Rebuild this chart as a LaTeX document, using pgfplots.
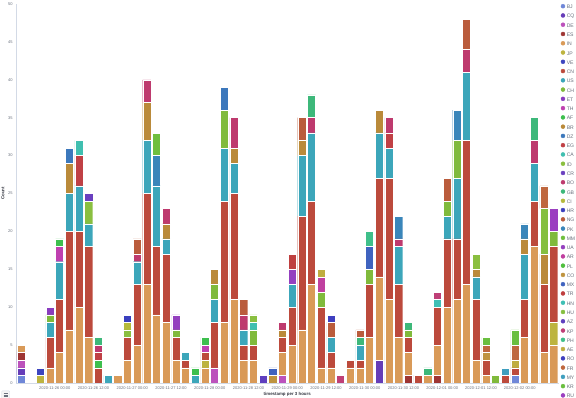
\documentclass[border=0pt]{standalone}
\usepackage{pgfplots}
\pgfplotsset{compat=1.18}
\usepackage{pgfplotstable}
\usepackage{fontspec}
\setmainfont{Liberation Sans}

\definecolor{tickgrey}{HTML}{69707D}
\definecolor{labeldark}{HTML}{343741}
\definecolor{axisgrey}{HTML}{D3DAE6}
\definecolor{cBJ}{HTML}{6F87D8}
\definecolor{cCQ}{HTML}{663DB8}
\definecolor{cDE}{HTML}{BC52BC}
\definecolor{cES}{HTML}{9E3533}
\definecolor{cIN}{HTML}{D99A58}
\definecolor{cJP}{HTML}{BDB440}
\definecolor{cVE}{HTML}{3D45BF}
\definecolor{cCN}{HTML}{BC4A3C}
\definecolor{cUS}{HTML}{3CA6BA}
\definecolor{cCH}{HTML}{80BA3C}
\definecolor{cET}{HTML}{8A3CBF}
\definecolor{cTH}{HTML}{BF40B0}
\definecolor{cAF}{HTML}{3DBF4E}
\definecolor{cBR}{HTML}{BA8A3A}
\definecolor{cDZ}{HTML}{3C78BC}
\definecolor{cEG}{HTML}{C04045}
\definecolor{cCA}{HTML}{40BFB0}
\definecolor{cID}{HTML}{8ABF40}
\definecolor{cCR}{HTML}{6A40BF}
\definecolor{cBO}{HTML}{BE3A6E}
\definecolor{cGB}{HTML}{3DB87A}
\definecolor{cCI}{HTML}{B5BA3C}
\definecolor{cHR}{HTML}{3A3FBE}
\definecolor{cNG}{HTML}{BA5C3C}
\definecolor{cPK}{HTML}{3A86BA}
\definecolor{cMM}{HTML}{6FBF3E}
\definecolor{cUA}{HTML}{9440BF}
\definecolor{cAR}{HTML}{C040A0}
\definecolor{cPL}{HTML}{4FBF3F}
\definecolor{cCO}{HTML}{BF9440}
\definecolor{cMX}{HTML}{3F63BF}
\definecolor{cTR}{HTML}{BF3F3F}
\definecolor{cHN}{HTML}{3FBFB5}
\definecolor{cHU}{HTML}{84BF3F}
\definecolor{cAZ}{HTML}{5F3FBF}
\definecolor{cKP}{HTML}{BF3F77}
\definecolor{cPH}{HTML}{3FBF8A}
\definecolor{cAE}{HTML}{BFAD3F}
\definecolor{cRO}{HTML}{3F3FBF}
\definecolor{cFR}{HTML}{BF683F}
\definecolor{cMY}{HTML}{3F9FBF}
\definecolor{cKR}{HTML}{6ABF3F}
\definecolor{cRU}{HTML}{9B3FC0}

% counts per 3-hour bucket (t = bucket index from 2020-11-25 12:00), one column per country
\pgfplotstableread{
t  BJ CQ DE ES IN  JP VE CN US CH  ET TH AF BR DZ  EG CA ID CR BO  GB CI HR NG PK  MM UA AR PL CO  MX TR HN HU AZ  KP PH AE RO FR  MY KR RU
0  1 1 1 1 1  0 0 0 0 0  0 0 0 0 0  0 0 0 0 0  0 0 0 0 0  0 0 0 0 0  0 0 0 0 0  0 0 0 0 0  0 0 0
1  0 0 0 0 0  0 0 0 0 0  0 0 0 0 0  0 0 0 0 0  0 0 0 0 0  0 0 0 0 0  0 0 0 0 0  0 0 0 0 0  0 0 0
2  0 0 0 0 0  1 1 0 0 0  0 0 0 0 0  0 0 0 0 0  0 0 0 0 0  0 0 0 0 0  0 0 0 0 0  0 0 0 0 0  0 0 0
3  0 0 0 0 2  0 0 4 2 1  1 0 0 0 0  0 0 0 0 0  0 0 0 0 0  0 0 0 0 0  0 0 0 0 0  0 0 0 0 0  0 0 0
4  0 0 0 0 4  0 0 7 5 0  0 2 1 0 0  0 0 0 0 0  0 0 0 0 0  0 0 0 0 0  0 0 0 0 0  0 0 0 0 0  0 0 0
5  0 0 0 0 7  0 0 13 5 0  0 0 0 4 2  0 0 0 0 0  0 0 0 0 0  0 0 0 0 0  0 0 0 0 0  0 0 0 0 0  0 0 0
6  0 0 0 0 10  0 0 10 6 0  0 0 0 0 0  4 2 0 0 0  0 0 0 0 0  0 0 0 0 0  0 0 0 0 0  0 0 0 0 0  0 0 0
7  0 0 0 0 6  0 0 12 3 0  0 0 0 0 0  0 0 3 1 0  0 0 0 0 0  0 0 0 0 0  0 0 0 0 0  0 0 0 0 0  0 0 0
8  0 0 0 0 0  0 0 2 0 0  0 0 1 0 0  1 0 0 0 1  1 0 0 0 0  0 0 0 0 0  0 0 0 0 0  0 0 0 0 0  0 0 0
9  0 0 0 0 0  0 0 0 1 0  0 0 0 0 0  0 0 0 0 0  0 0 0 0 0  0 0 0 0 0  0 0 0 0 0  0 0 0 0 0  0 0 0
10 0 0 0 0 1  0 0 0 0 0  0 0 0 0 0  0 0 0 0 0  0 0 0 0 0  0 0 0 0 0  0 0 0 0 0  0 0 0 0 0  0 0 0
11 0 0 0 0 3  0 0 3 0 0  0 0 0 0 0  0 0 1 0 0  0 1 1 0 0  0 0 0 0 0  0 0 0 0 0  0 0 0 0 0  0 0 0
12 0 0 0 0 5  0 0 8 3 0  0 0 0 0 0  0 0 0 0 1  0 0 0 2 0  0 0 0 0 0  0 0 0 0 0  0 0 0 0 0  0 0 0
13 0 0 0 0 13  0 0 12 7 0  0 0 0 5 0  0 0 0 0 3  0 0 0 0 0  0 0 0 0 0  0 0 0 0 0  0 0 0 0 0  0 0 0
14 0 0 0 0 9  0 0 9 8 0  0 0 0 0 0  0 0 0 0 0  0 0 0 0 4  3 0 0 0 0  0 0 0 0 0  0 0 0 0 0  0 0 0
15 0 0 0 0 8  0 0 9 2 0  0 0 0 2 0  0 0 0 0 2  0 0 0 0 0  0 0 0 0 0  0 0 0 0 0  0 0 0 0 0  0 0 0
16 0 0 0 0 3  0 0 3 0 1  0 0 0 0 0  0 0 0 0 0  0 0 0 0 0  0 2 0 0 0  0 0 0 0 0  0 0 0 0 0  0 0 0
17 0 0 0 0 2  0 0 1 1 0  0 0 0 0 0  0 0 0 0 0  0 0 0 0 0  0 0 0 0 0  0 0 0 0 0  0 0 0 0 0  0 0 0
18 0 0 0 0 0  0 0 0 1 0  0 0 1 0 0  0 0 0 0 0  0 0 0 0 0  0 0 0 0 0  0 0 0 0 0  0 0 0 0 0  0 0 0
19 0 0 0 0 2  1 0 1 0 0  0 1 1 0 0  0 0 0 0 0  0 0 0 0 0  0 0 0 0 0  0 0 0 0 0  0 0 0 0 0  0 0 0
20 0 0 2 0 0  0 0 6 3 2  0 0 0 2 0  0 0 0 0 0  0 0 0 0 0  0 0 0 0 0  0 0 0 0 0  0 0 0 0 0  0 0 0
21 0 0 0 0 8  0 0 16 7 5  0 0 0 0 3  0 0 0 0 0  0 0 0 0 0  0 0 0 0 0  0 0 0 0 0  0 0 0 0 0  0 0 0
22 0 0 0 0 11  0 0 14 4 0  0 0 0 2 0  0 0 0 0 4  0 0 0 0 0  0 0 0 0 0  0 0 0 0 0  0 0 0 0 0  0 0 0
23 0 0 0 0 3  0 0 2 2 0  0 0 0 0 0  0 0 0 0 2  0 0 0 2 0  0 0 0 0 0  0 0 0 0 0  0 0 0 0 0  0 0 0
24 0 0 0 0 3  0 0 2 0 2  0 0 0 0 0  0 1 1 0 0  0 0 0 0 0  0 0 0 0 0  0 0 0 0 0  0 0 0 0 0  0 0 0
25 0 0 0 0 0  0 0 0 0 0  0 0 0 0 0  0 0 0 0 0  0 0 0 0 0  0 0 0 0 0  0 0 0 0 1  0 0 0 0 0  0 0 0
26 0 0 0 0 0  0 0 0 0 0  0 0 0 0 0  0 0 0 0 0  0 0 0 0 0  0 0 0 0 1  1 0 0 0 0  0 0 0 0 0  0 0 0
27 0 0 1 0 3  0 0 2 0 0  0 0 0 1 0  0 0 0 0 1  0 0 0 0 0  0 0 0 0 0  0 0 0 0 0  0 0 0 0 0  0 0 0
28 0 0 0 0 5  0 0 5 3 0  0 0 0 0 0  0 0 0 0 0  0 0 0 0 0  0 2 0 0 0  0 2 0 0 0  0 0 0 0 0  0 0 0
29 0 0 0 0 7  0 0 15 8 0  0 0 0 2 0  0 0 0 0 0  0 0 0 3 0  0 0 0 0 0  0 0 0 0 0  0 0 0 0 0  0 0 0
30 0 0 0 0 13  0 0 11 9 0  0 0 0 0 0  0 0 0 0 2  3 0 0 0 0  0 0 0 0 0  0 0 0 0 0  0 0 0 0 0  0 0 0
31 0 0 0 0 2  0 0 8 0 2  0 0 0 0 0  0 0 0 0 0  0 0 0 0 0  0 0 2 0 0  0 0 0 0 0  0 0 1 0 0  0 0 0
32 0 0 0 0 2  0 0 2 2 0  0 0 0 0 0  0 0 0 0 0  0 0 0 2 0  0 0 0 0 0  0 0 0 0 0  0 0 0 1 0  0 0 0
33 0 0 0 0 0  0 0 0 0 0  0 0 0 0 0  0 0 0 0 0  0 0 0 0 0  0 0 0 0 0  0 0 0 0 0  1 0 0 0 0  0 0 0
34 0 0 0 0 2  0 0 1 0 0  0 0 0 0 0  0 0 0 0 0  0 0 0 0 0  0 0 0 0 0  0 0 0 0 0  0 0 0 0 0  0 0 0
35 0 0 0 0 2  0 0 1 2 0  0 0 0 0 0  0 0 0 0 0  1 0 0 1 0  0 0 0 0 0  0 0 0 0 0  0 0 0 0 0  0 0 0
36 0 0 0 0 6  0 0 7 0 2  0 0 0 0 0  0 0 0 0 0  0 0 0 0 0  0 0 0 0 0  3 0 0 0 0  0 2 0 0 0  0 0 0
37 0 3 0 0 11  0 0 13 6 0  0 0 0 3 0  0 0 0 0 0  0 0 0 0 0  0 0 0 0 0  0 0 0 0 0  0 0 0 0 0  0 0 0
38 0 0 0 0 11  0 0 16 4 0  0 0 0 0 0  2 0 0 0 2  0 0 0 0 0  0 0 0 0 0  0 0 0 0 0  0 0 0 0 0  0 0 0
39 0 0 0 0 6  0 0 7 5 0  0 0 0 0 0  0 0 0 0 1  0 0 0 0 3  0 0 0 0 0  0 0 0 0 0  0 0 0 0 0  0 0 0
40 0 0 0 1 3  0 0 2 0 1  0 0 0 0 0  0 0 0 0 0  1 0 0 0 0  0 0 0 0 0  0 0 0 0 0  0 0 0 0 0  0 0 0
41 0 0 0 0 0  0 0 1 0 0  0 0 0 0 0  0 0 0 0 0  0 0 0 0 0  0 0 0 0 0  0 0 0 0 0  0 0 0 0 0  0 0 0
42 0 0 0 0 1  0 0 0 0 0  0 0 0 0 0  0 0 0 0 0  1 0 0 0 0  0 0 0 0 0  0 0 0 0 0  0 0 0 0 0  0 0 0
43 0 0 0 1 4  0 0 5 0 0  0 0 0 0 0  0 0 0 0 0  0 0 0 0 0  0 0 0 0 0  0 0 1 0 0  1 0 0 0 0  0 0 0
44 0 0 0 0 10  0 0 9 3 2  0 0 0 0 0  0 0 0 0 0  0 0 0 3 0  0 0 0 0 0  0 0 0 0 0  0 0 0 0 0  0 0 0
45 0 0 0 0 11  0 0 8 8 5  0 0 0 0 0  0 0 0 0 0  0 0 0 0 4  0 0 0 0 0  0 0 0 0 0  0 0 0 0 0  0 0 0
46 0 0 0 0 13  0 0 19 9 0  0 0 0 0 0  0 0 0 0 3  0 0 0 4 0  0 0 0 0 0  0 0 0 0 0  0 0 0 0 0  0 0 0
47 0 0 0 0 3  0 0 8 3 0  0 0 0 1 0  0 0 2 0 0  0 0 0 0 0  0 0 0 0 0  0 0 0 0 0  0 0 0 0 0  0 0 0
48 0 0 0 0 1  0 0 2 0 0  0 0 0 0 0  0 0 0 0 0  0 0 0 0 0  0 0 0 0 1  0 0 0 0 0  0 0 0 0 1  0 1 0
49 0 0 0 0 0  0 0 0 0 1  0 0 0 0 0  0 0 0 0 0  0 0 0 0 0  0 0 0 0 0  0 0 0 0 0  0 0 0 0 0  0 0 0
50 0 0 0 0 0  0 0 1 0 0  0 0 0 0 0  0 0 0 0 0  0 0 0 0 0  0 0 0 0 0  0 0 0 0 0  0 0 0 0 0  1 0 0
51 1 0 0 0 0  0 0 1 0 0  0 0 0 0 0  0 0 0 0 0  0 0 0 0 0  0 0 0 0 0  0 0 0 0 0  0 0 1 0 2  0 2 0
52 0 0 0 0 6  0 0 5 6 0  0 0 0 2 0  0 0 0 0 0  0 0 0 0 2  0 0 0 0 0  0 0 0 0 0  0 0 0 0 0  0 0 0
53 0 0 0 0 18  0 0 6 5 0  0 0 0 0 0  0 0 0 0 3  3 0 0 0 0  0 0 0 0 0  0 0 0 0 0  0 0 0 0 0  0 0 0
54 0 0 0 0 4  0 0 9 0 0  0 0 0 4 0  0 0 0 0 0  0 0 0 0 0  0 0 0 0 0  0 0 0 6 0  0 0 0 0 3  0 0 0
55 0 0 0 0 5  3 0 10 0 2  0 0 0 0 0  0 0 0 0 0  0 0 0 0 0  0 0 0 0 0  0 0 0 0 0  0 0 0 0 0  0 0 3
}\datatable

\begin{document}
\begin{tikzpicture}
\begin{axis}[
  name=ax,
  at={(0,0)}, anchor=south west,
  scale only axis,
  width=406.875pt, height=284.25pt,
  xmin=0, xmax=56, ymin=0, ymax=50,
  ybar stacked, bar width=0.84,
  axis x line*=bottom, axis y line*=left,
  x axis line style={-, draw=axisgrey, line width=0.4pt},
  y axis line style={-, draw=axisgrey, line width=0.4pt},
  xtick={4,8,...,52},
  xticklabels={2020-11-26 00:00,2020-11-26 12:00,2020-11-27 00:00,2020-11-27 12:00,2020-11-28 00:00,2020-11-28 12:00,2020-11-29 00:00,2020-11-29 12:00,2020-11-30 00:00,2020-11-30 12:00,2020-12-01 00:00,2020-12-01 12:00,2020-12-02 00:00},
  ytick={0,5,...,50},
  major tick length=0pt,
  tick style={draw=none},
  /pgf/number format/assume math mode=true,
  ticklabel style={font=\fontsize{3}{3.5}\selectfont, text=tickgrey},
  xticklabel style={anchor=north, inner sep=0pt, yshift=-2.8pt},
  yticklabel style={anchor=east, inner sep=0pt, xshift=-2.4pt},
  xlabel={timestamp per 3 hours},
  ylabel={Count},
  xlabel style={at={(axis description cs:0.5,-0.029)}, anchor=center, inner sep=0pt, font=\fontsize{3.3}{4}\selectfont\bfseries, text=labeldark},
  ylabel style={at={(axis description cs:-0.0244,0.5)}, anchor=center, inner sep=0pt, font=\fontsize{3.3}{4}\selectfont\bfseries, text=labeldark},
  legend cell align=left,
  legend style={
    at={(axis description cs:1,1)}, anchor=north west, xshift=1.7pt,
    draw=none, fill=none, inner sep=0pt, outer sep=0pt,
    font=\fontsize{3.8}{4}\selectfont, text=tickgrey,
    row sep=2.4pt, column sep=1.2pt,
    nodes={inner sep=0pt, text height=2.8pt, text depth=1pt},
  },
]
\pgfplotsinvokeforeach{BJ,CQ,DE,ES,IN,JP,VE,CN,US,CH,ET,TH,AF,BR,DZ,EG,CA,ID,CR,BO,GB,CI,HR,NG,PK,MM,UA,AR,PL,CO,MX,TR,HN,HU,AZ,KP,PH,AE,RO,FR,MY,KR,RU}{
  \addplot[fill=c#1, draw=white, line width=0.3pt,
    legend image code/.code={\fill[c#1] (1.5pt,1.0pt) circle (1.5pt);}]
    table[x expr=\thisrow{t}+0.5, y=#1]{\datatable};
  \addlegendentry{#1}
}
\end{axis}
% legend toggle button (bottom left)
\draw[draw=axisgrey, fill=gray!8, rounded corners=0.6pt, line width=0.3pt] (-10.7pt,-11.8pt) rectangle (-4.7pt,-5.9pt);
\draw[tickgrey, line width=0.25pt] (-9.2pt,-7.6pt) -- (-6.2pt,-7.6pt) (-9.2pt,-8.8pt) -- (-6.2pt,-8.8pt) (-9.2pt,-10.0pt) -- (-6.2pt,-10.0pt);
\pgfresetboundingbox
\path[use as bounding box] (-12pt,-11.25pt) rectangle (420pt,287.25pt);
\end{tikzpicture}
\end{document}
